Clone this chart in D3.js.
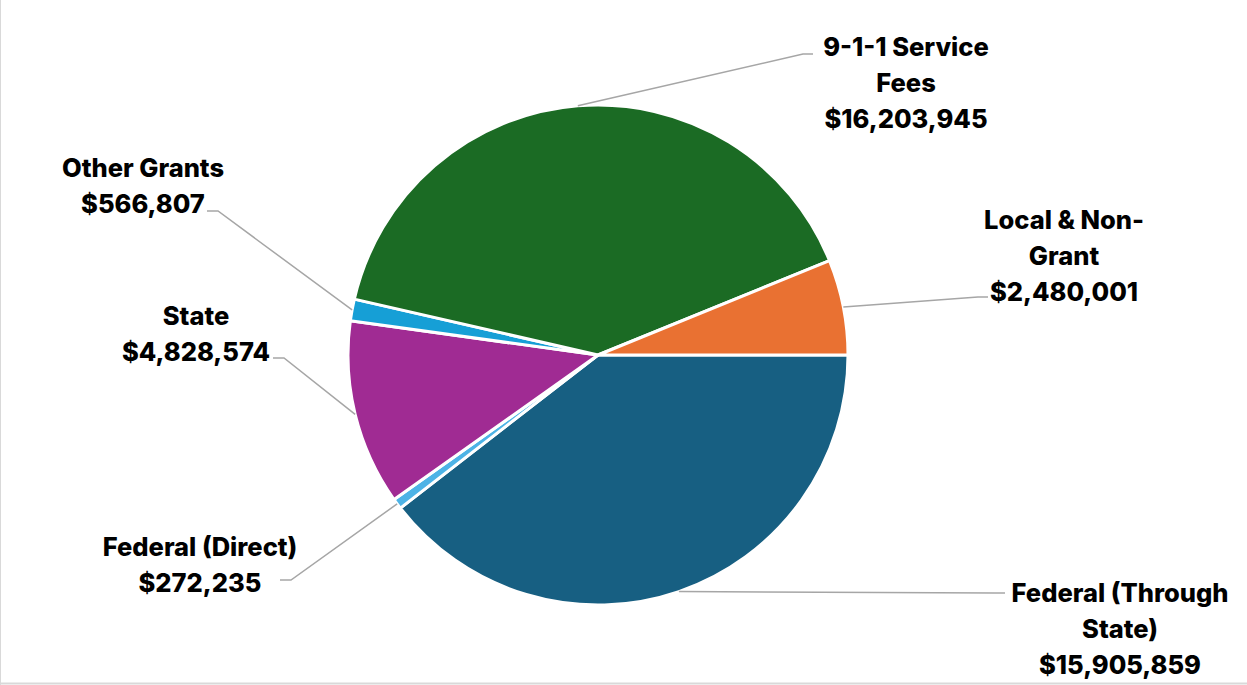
<!DOCTYPE html>
<html lang="en">
  <head>
    <meta charset="UTF-8" />
    <title>Funding sources</title>
    <script src="https://d3js.org/d3.v7.min.js"></script>
    <style>
      body {
        margin: 0;
        background: #fff;
      }
      svg {
        display: block;
      }
      .label {
        font-family: Inter, "Noto Sans", sans-serif;
        font-weight: 800;
        font-size: 25.5px;
        fill: #000;
      }
      .leader {
        fill: none;
        stroke: #a6a6a6;
        stroke-width: 1.5;
      }
      .frame {
        stroke: #d9d9d9;
        stroke-width: 2;
      }
    </style>
  </head>
  <body>
    <svg width="1247" height="685"></svg>

    <script>
      // slices, in clockwise order starting at 3 o'clock
      const categories = [
        ["Federal (Through", "State)"],
        ["Federal (Direct)"],
        ["State"],
        ["Other Grants"],
        ["9-1-1 Service", "Fees"],
        ["Local & Non-", "Grant"],
      ];
      const amounts = [15905859, 272235, 4828574, 566807, 16203945, 2480001];
      const colors = ["#175f82", "#4db3e6", "#a02b93", "#169fd6", "#1b6b24", "#e97132"];

      // where each label block sits (centre x, first line y) and which side the leader joins
      const labelLayout = [
        { x: 1120, y: 592, side: "left", lx: 1005, ly: 593 },
        { x: 200, y: 546, side: "right", lx: 280, ly: 580 },
        { x: 196, y: 315, side: "right", lx: 273, ly: 358 },
        { x: 143, y: 167, side: "right", lx: 207, ly: 211 },
        { x: 906, y: 46, side: "left", lx: 813, ly: 54 },
        { x: 1064, y: 219, side: "left", lx: 988, ly: 297 },
      ];

      const width = 1247;
      const height = 685;
      const cx = 598;
      const cy = 355;
      const radius = 250;
      const lineH = 36;

      const svg = d3.select("svg").attr("width", width).attr("height", height);

      const data = amounts.map(function (v, i) {
        return { lines: categories[i], value: v, color: colors[i], pos: labelLayout[i] };
      });

      const pie = d3
        .pie()
        .sort(null)
        .value(function (d) {
          return d.value;
        })
        .startAngle(Math.PI / 2)
        .endAngle(Math.PI / 2 + 2 * Math.PI);

      const arc = d3.arc().innerRadius(0).outerRadius(radius);
      const edge = d3.arc().innerRadius(radius).outerRadius(radius);

      const g = svg.append("g").attr("transform", "translate(" + cx + "," + cy + ")");
      const arcs = pie(data);

      g.selectAll(".slice")
        .data(arcs)
        .enter()
        .append("path")
        .attr("class", "slice")
        .attr("d", arc)
        .attr("fill", function (d) {
          return d.data.color;
        })
        .attr("stroke", "#fff")
        .attr("stroke-width", 3)
        .attr("stroke-linejoin", "round");

      // leader lines: from slice edge at mid angle to the label, short horizontal end
      svg
        .selectAll(".leader")
        .data(arcs)
        .enter()
        .append("polyline")
        .attr("class", "leader")
        .attr("points", function (d) {
          const p = edge.centroid(d);
          const pos = d.data.pos;
          const kink = pos.side === "left" ? pos.lx - 10 : pos.lx + 11;
          return [
            [cx + p[0], cy + p[1]],
            [kink, pos.ly],
            [pos.lx, pos.ly],
          ].join(" ");
        });

      const fmt = d3.format("$,");
      const labels = svg
        .selectAll(".label")
        .data(arcs)
        .enter()
        .append("text")
        .attr("class", "label")
        .attr("text-anchor", "middle")
        .attr("dominant-baseline", "central");

      labels.each(function (d) {
        const t = d3.select(this);
        const rows = d.data.lines.concat([fmt(d.data.value)]);
        rows.forEach(function (r, i) {
          t.append("tspan")
            .attr("x", d.data.pos.x)
            .attr("y", d.data.pos.y + i * lineH)
            .text(r);
        });
      });

      // chart area frame (left and bottom edge visible)
      svg.append("line").attr("class", "frame").attr("x1", 0).attr("y1", 0).attr("x2", 0).attr("y2", height);
      svg.append("line").attr("class", "frame").attr("x1", 0).attr("y1", height - 1.5).attr("x2", width).attr("y2", height - 1.5);
    </script>
  </body>
</html>
